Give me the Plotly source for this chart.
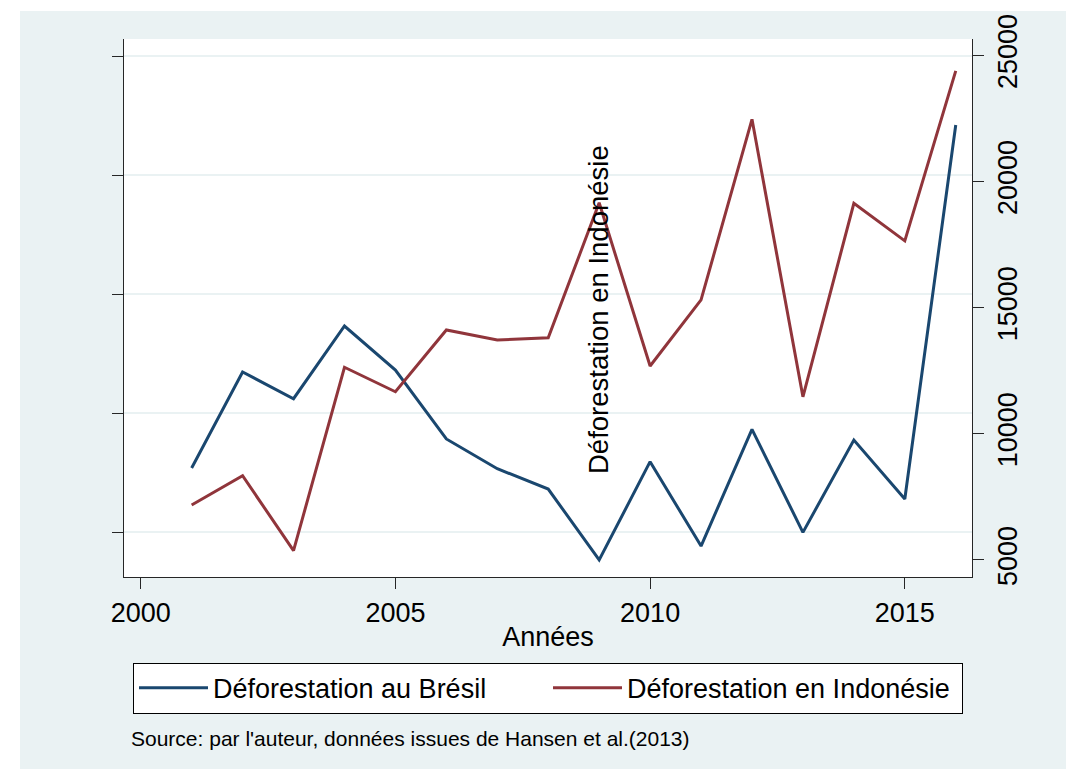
import plotly.graph_objects as go

# data
years = list(range(2001, 2017))
bresil = [25380, 33450, 31200, 37310, 33610, 27820, 25320, 23610,
          17650, 25910, 18820, 28630, 19970, 27730, 22770, 54200]
indonesie = [7180, 8340, 5370, 12640, 11670, 14120, 13720, 13810,
             19160, 12690, 15310, 22470, 11470, 19140, 17650, 24390]
x_ticks = [2000, 2005, 2010, 2015]
left_ticks = [20000, 30000, 40000, 50000, 60000]
right_ticks = [5000, 10000, 15000, 20000, 25000]

navy = '#1A476F'
maroon = '#90353B'
bg = '#EAF2F3'
axcol = '#262626'
font = 'Liberation Sans, Arial, sans-serif'

# plot area is 848 x 538 px
W, H = 848, 538
def px(x):
  return (x - 124) / W
def py(y):
  return (577 - y) / H

fig = go.Figure()
fig.add_trace(go.Scatter(x=years, y=bresil, mode='lines', name='Déforestation au Brésil',
                         line=dict(color=navy, width=3), yaxis='y'))
fig.add_trace(go.Scatter(x=years, y=indonesie, mode='lines', name='Déforestation en Indonésie',
                         line=dict(color=maroon, width=3), yaxis='y2'))

# white frame left and top of the light graph region
fig.add_shape(type='rect', xref='paper', yref='paper', x0=px(-20), x1=px(20),
              y0=py(800), y1=py(-20), fillcolor='white', line_width=0, layer='below')
fig.add_shape(type='rect', xref='paper', yref='paper', x0=px(-20), x1=px(1100),
              y0=py(11), y1=py(-20), fillcolor='white', line_width=0, layer='below')

fig.add_annotation(text='Déforestation en Indonésie', textangle=-90, xref='paper', yref='paper',
                   x=px(598), y=py(310), showarrow=False,
                   font=dict(size=27.5, color='black', family=font))
fig.add_annotation(text="Source: par l'auteur, données issues de Hansen et al.(2013)",
                   xref='paper', yref='paper', x=px(129), y=py(738),
                   xanchor='left', yanchor='middle', showarrow=False,
                   font=dict(size=21, color='black', family=font))

fig.update_layout(
  width=1066, height=769,
  margin=dict(l=124, r=94, t=39, b=192, autoexpand=False),
  paper_bgcolor=bg, plot_bgcolor='white',
  font=dict(family=font, size=27, color='black'),
  showlegend=True,
  legend=dict(orientation='h', x=px(548), xanchor='center', y=py(662.7), yanchor='top',
              bgcolor='white', bordercolor='black', borderwidth=1,
              font=dict(size=27, color='black'), itemwidth=69, entrywidth=330,
              traceorder='normal'),
  xaxis=dict(range=[1999.672, 2016.319], tickvals=x_ticks, showgrid=False, zeroline=False,
             showline=True, linecolor=axcol, linewidth=1.3, ticks='outside', ticklen=11,
             tickcolor=axcol, tickwidth=1.3, tickfont=dict(size=27),
             title=dict(text='Années', font=dict(size=27), standoff=0)),
  yaxis=dict(range=[16218, 61429], tickvals=left_ticks, showticklabels=False,
             showgrid=True, gridcolor=bg, gridwidth=2, zeroline=False,
             showline=True, linecolor=axcol, linewidth=1.3, ticks='outside', ticklen=11,
             tickcolor=axcol, tickwidth=1.3),
  yaxis2=dict(range=[4325, 25654], tickvals=right_ticks, tickformat='d',
              overlaying='y', side='right',
              showgrid=False, zeroline=False, tickangle=-90,
              showline=True, linecolor=axcol, linewidth=1.3, ticks='outside', ticklen=11,
              tickcolor=axcol, tickwidth=1.3, tickfont=dict(size=27)),
)

# drop the default page margin and scrollbars so the figure fills the window
fig.write_html('out.html', config={'displayModeBar': False},
               post_script="document.body.style.margin='0';"
                           "document.documentElement.style.overflow='hidden';")
